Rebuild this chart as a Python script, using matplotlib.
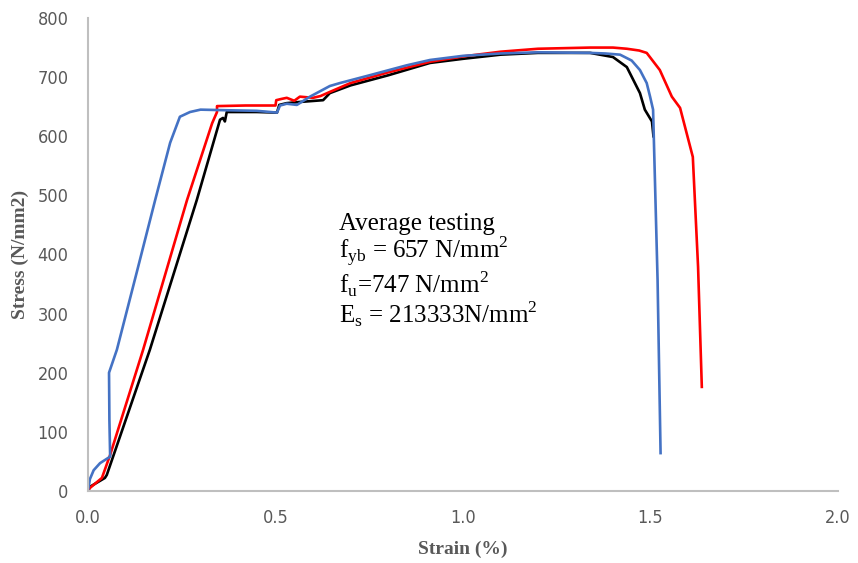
import matplotlib
matplotlib.use("Agg")
from matplotlib import pyplot as plt

# specimen 1 (blue)
blue_strain = [0.0, 0.005, 0.015, 0.032, 0.059, 0.057, 0.056, 0.077, 0.13, 0.179, 0.219, 0.245,
               0.272, 0.30, 0.37, 0.45, 0.504, 0.512, 0.53, 0.557, 0.592, 0.645, 0.672, 0.75, 0.85,
               0.912, 1.0, 1.1, 1.2, 1.339, 1.38, 1.419, 1.45, 1.472, 1.49, 1.499, 1.507, 1.519, 1.527]
blue_stress = [0, 20, 35, 47, 58, 120, 200, 239, 370, 492, 589, 633,
               641, 645, 644, 643, 640, 652, 655, 653, 667, 685, 690, 703, 720,
               729, 736, 740, 742, 741, 740, 738, 728, 712, 690, 667, 645, 357, 64]

# specimen 2 (red)
red_strain = [0.0, 0.005, 0.037, 0.059, 0.147, 0.264, 0.331, 0.344, 0.344, 0.42, 0.5, 0.502,
              0.515, 0.53, 0.55, 0.565, 0.6, 0.62, 0.645, 0.7, 0.8, 0.912, 1.0, 1.1, 1.2, 1.339,
              1.4, 1.437, 1.47, 1.49, 1.525, 1.557, 1.579, 1.613, 1.627, 1.637]
red_stress = [0, 5, 22, 61, 239, 492, 622, 641, 651, 652, 652, 661,
              663, 665, 660, 667, 665, 668, 675, 690, 708, 726, 735, 743, 748, 750,
              750, 748, 745, 741, 712, 667, 648, 565, 379, 176]

# specimen 3 (black)
black_strain = [0.0, 0.005, 0.045, 0.05, 0.165, 0.29, 0.352, 0.36, 0.365, 0.37, 0.45, 0.504,
                0.51, 0.53, 0.565, 0.627, 0.645, 0.7, 0.8, 0.912, 1.0, 1.1, 1.2, 1.339, 1.40,
                1.437, 1.472, 1.485, 1.504, 1.508]
black_stress = [0, 7, 22, 27, 239, 492, 628, 631, 625, 641, 641, 640,
                653, 656, 658, 661, 673, 686, 703, 724, 731, 738, 741, 741, 734,
                717, 673, 645, 625, 600]

note = ("Average testing\n"
        "f$_{\\mathregular{yb}}$ = 657 N/mm$^{\\mathregular{2}}$\n"
        "f$_{\\mathregular{u}}$=747 N/mm$^{\\mathregular{2}}$\n"
        "E$_{\\mathregular{s}}$ = 213333N/mm$^{\\mathregular{2}}$")

plt.rcParams["mathtext.fontset"] = "custom"
plt.rcParams["mathtext.rm"] = "Liberation Serif"

fig = plt.figure(figsize=(8.58, 5.63), dpi=100)
ax = fig.add_axes([0.1026, 0.128, 0.874, 0.84])

ax.plot(black_strain, black_stress, color="black", linewidth=1.9)
ax.plot(red_strain, red_stress, color="#ff0000", linewidth=1.9)
ax.plot(blue_strain, blue_stress, color="#4472c4", linewidth=1.9)

ax.set_xlim(0, 2.0)
ax.set_ylim(0, 800)
ax.set_xticks([0.0, 0.5, 1.0, 1.5, 2.0])
ax.set_xticklabels(["0.0", "0.5", "1.0", "1.5", "2.0"])
ax.set_yticks(range(0, 801, 100))

for lab in ax.get_xticklabels() + ax.get_yticklabels():
    lab.set_family("DejaVu Sans")
    lab.set_stretch("condensed")
    lab.set_fontsize(13)
    lab.set_color("#595959")
ax.tick_params(length=0)
ax.tick_params(axis="y", pad=14)
ax.tick_params(axis="x", pad=13)

for side in ["top", "right"]:
    ax.spines[side].set_visible(False)
for side in ["left", "bottom"]:
    ax.spines[side].set_color("#bfbfbf")
    ax.spines[side].set_linewidth(1.5)

ax.set_xlabel("Strain (%)", family="Liberation Serif", fontweight="bold", fontsize=14,
              color="#595959", labelpad=10)
ax.set_ylabel("Stress (N/mm2)", family="Liberation Serif", fontweight="bold", fontsize=14,
              color="#595959", labelpad=6)

# baseline alignment of a multi-line text anchors the last line
ax.text(0.669, 284, note, family="Liberation Serif", fontsize=18, color="black",
        va="baseline", ha="left", linespacing=1.0)

fig.savefig("out.png", dpi=100)
